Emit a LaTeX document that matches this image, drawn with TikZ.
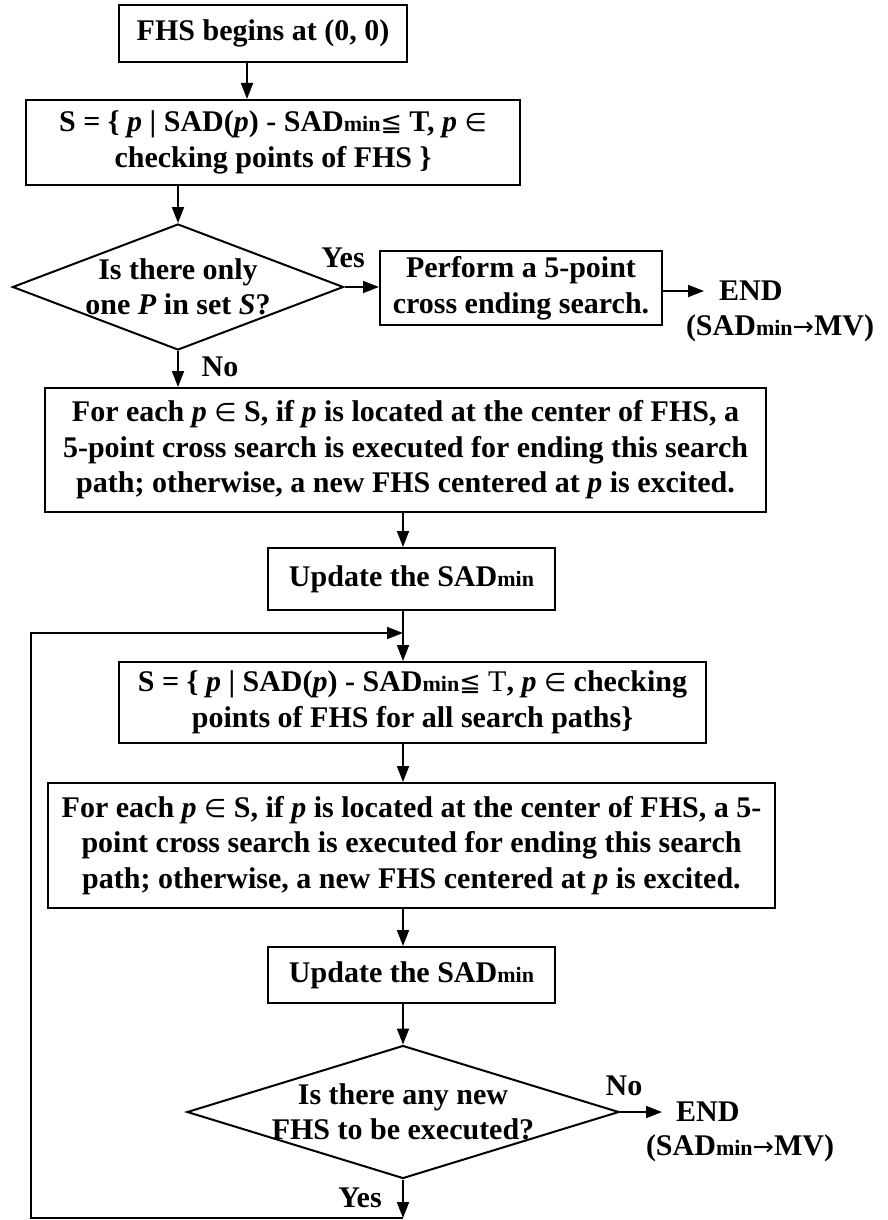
\documentclass[tikz,border=0pt]{standalone}
\usepackage{fontspec}
\setmainfont{Liberation Serif}
\newfontfamily\symfont{DejaVu Sans}[Scale=0.85]
\usetikzlibrary{shapes.geometric,arrows.meta}
\newcommand{\sadmin}{SAD{\fontsize{22}{22}\selectfont min}}
\newcommand{\lesym}{{\symfont\mdseries ≦}}
\newcommand{\insym}{{\symfont\mdseries ∈}}
\newcommand{\tosym}{{\symfont\mdseries →}}
\tikzset{
  box/.style = {draw, line width=2pt, inner sep=0pt, align=center, font=\bfseries\fontsize{30}{35.5}\selectfont},
  decision/.style = {draw, diamond, line width=2pt, inner sep=0pt},
  lbl/.style = {inner sep=0pt, align=center, font=\bfseries\fontsize{30}{35.5}\selectfont},
  arrow/.style = {line width=1.8pt, -{Triangle[length=16pt,width=12pt]}}
}
\begin{document}
\begin{tikzpicture}[x=1pt,y=-1pt]
\useasboundingbox (0,0) rectangle (888,1220);
% columns of the connectors
\coordinate (c1) at (247,0);
\coordinate (c2) at (178,0);
\coordinate (c3) at (403,0);
\coordinate (merge) at (403,633);
\coordinate (loopB) at (403,1218);
\coordinate (loopL) at (31,1218);

% first search
\node[box, minimum width=288pt, minimum height=57pt] (start) at (263,33.5) {FHS begins at (0, 0)};
\node[box, minimum width=494pt, minimum height=85pt] (setS) at (273,142.5)
  {S = \{ \textit{p} | SAD(\textit{p}) - \sadmin\lesym{} T, \textit{p} \insym\\checking points of FHS \}};
\node[decision, minimum width=331pt, minimum height=126pt] (only) at (178,287) {};
\node[lbl] (onlytxt) at (only) {Is there only\\one \textit{P} in set \textit{S}?};
\node[box, minimum width=282pt, minimum height=74pt] (cross) at (521,288) {Perform a 5-point\\cross ending search.};
\node[lbl, anchor=west, inner xsep=15pt] (end1) at (704,291) {END};
\node[lbl] (mv1) at (780,328) {(\sadmin\tosym MV)};
\node[lbl] (yes1) at (343,258) {Yes};
\node[lbl] (no1) at (220,367) {No};

% loop
\node[box, minimum width=721pt, minimum height=124pt] (each1) at (405.5,450)
  {For each \textit{p} \insym{} S, if \textit{p} is located at the center of FHS, a\\5-point cross search is executed for ending this search\\path; otherwise, a new FHS centered at \textit{p} is excited.};
\node[box, minimum width=287pt, minimum height=62pt] (upd1) at (411.5,579) {Update the \sadmin};
\node[box, minimum width=587pt, minimum height=81pt] (setS2) at (412.5,702.5)
  {S = \{ \textit{p} | SAD(\textit{p}) - \sadmin\lesym{} {\mdseries T}, \textit{p} \insym{} checking\\points of FHS for all search paths\}};
\node[box, minimum width=727pt, minimum height=125pt] (each2) at (411.5,845.5)
  {For each \textit{p} \insym{} S, if \textit{p} is located at the center of FHS, a 5-\\point cross search is executed for ending this search\\path; otherwise, a new FHS centered at \textit{p} is excited.};
\node[box, minimum width=287pt, minimum height=56pt] (upd2) at (411.5,975) {Update the \sadmin};
\node[decision, minimum width=432pt, minimum height=133pt] (anynew) at (403,1112) {};
\node[lbl] (anytxt) at (anynew) {Is there any new\\FHS to be executed?};
\node[lbl, anchor=west, inner xsep=14pt] (end2) at (662,1112) {END};
\node[lbl] (mv2) at (740,1148) {(\sadmin\tosym MV)};
\node[lbl] (no2) at (624,1086) {No};
\node[lbl] (yes2) at (360,1198) {Yes};

% connectors
\draw[arrow] (start.south -| c1) -- (setS.north -| c1);
\draw[arrow] (setS.south -| c2) -- (only.north);
\draw[arrow] (only.east) -- (only.east -| cross.west);
\draw[arrow] (cross.east |- end1.west) -- (end1.west);
\draw[arrow] (only.south) -- (each1.north -| c2);
\draw[arrow] (each1.south -| c3) -- (upd1.north -| c3);
\draw[arrow] (upd1.south -| c3) -- (setS2.north -| c3);
\draw[arrow] (setS2.south -| c3) -- (each2.north -| c3);
\draw[arrow] (each2.south -| c3) -- (upd2.north -| c3);
\draw[arrow] (upd2.south -| c3) -- (anynew.north);
\draw[arrow] (anynew.east) -- (end2.west);
\draw[arrow] (anynew.south) -- (loopB);
\draw[arrow] (loopB) -- (loopL) |- (merge);
\end{tikzpicture}
\end{document}
